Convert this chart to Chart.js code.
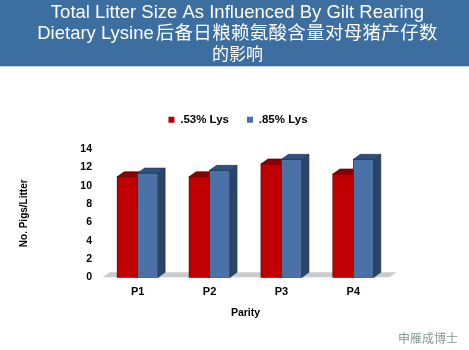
<!DOCTYPE html>
<html>
<head>
<meta charset="utf-8">
<script src="https://cdn.jsdelivr.net/npm/chart.js@4/dist/chart.umd.min.js"></script>
<style>
  html, body { margin: 0; padding: 0; background: #ffffff; }
  canvas { display: block; }
</style>
</head>
<body>
<canvas id="chart" width="469" height="350"></canvas>
<script>
// Litter size by parity for two gilt-rearing lysine levels
const parities = ['P1', 'P2', 'P3', 'P4'];
const lys053 = [11.0, 11.0, 12.4, 11.3];
const lys085 = [11.4, 11.7, 12.9, 12.9];
const seriesNames = ['.53% Lys', '.85% Lys'];
const yTicks = [0, 2, 4, 6, 8, 10, 12, 14];

const titleLine1 = 'Total Litter Size As Influenced By Gilt Rearing';
const titleLine2Latin = 'Dietary Lysine';
const titleLine2Cjk = '后备日粮赖氨酸含量对母猪产仔数';
const titleLine3 = '的影响';
const yTitle = 'No. Pigs/Litter';
const xTitle = 'Parity';
const footText = '申雁成博士';

const LATIN = '"Liberation Sans", Arial, sans-serif';
const CJK = '"Noto Sans CJK SC", "Liberation Sans", sans-serif';

const faceColors = [
  { front: '#c00000', top: '#8a0000', side: '#7a0000', edge: '#5a0000' },
  { front: '#4a72a8', top: '#2f5080', side: '#2b4569', edge: '#1d3150' }
];
const DX = 7, DY = 5;

// Slide header band, white page and footer mark
const slideBackground = {
  id: 'slideBackground',
  beforeDraw(chart) {
    const ctx = chart.ctx;
    ctx.save();
    ctx.fillStyle = '#ffffff';
    ctx.fillRect(0, 0, chart.width, chart.height);
    ctx.fillStyle = '#3c6fa0';
    ctx.fillRect(0, 0, chart.width, 66);
    ctx.fillStyle = '#c9d8e8';
    ctx.fillRect(0, 66, chart.width, 1);

    ctx.fillStyle = '#ffffff';
    ctx.textBaseline = 'alphabetic';
    ctx.textAlign = 'left';
    const cx = 237.5;

    ctx.font = '18.5px ' + LATIN;
    let w = ctx.measureText(titleLine1).width;
    ctx.fillText(titleLine1, cx - w / 2, 17.5);

    // second line: latin words followed by evenly pitched CJK characters
    const pitch = 18.8;
    const chars = Array.from(titleLine2Cjk);
    ctx.font = '18.5px ' + LATIN;
    const wl = ctx.measureText(titleLine2Latin).width;
    const total = wl + 2 + chars.length * pitch;
    const x0 = cx - total / 2;
    ctx.fillText(titleLine2Latin, x0, 38.5);
    ctx.font = '18.5px ' + CJK;
    chars.forEach((ch, i) => ctx.fillText(ch, x0 + wl + 2 + i * pitch, 39));

    ctx.font = '17px ' + CJK;
    w = ctx.measureText(titleLine3).width;
    ctx.fillText(titleLine3, cx - w / 2, 60);

    ctx.font = '12px ' + CJK;
    ctx.fillStyle = '#8a9a90';
    ctx.fillText(footText, 398, 343);
    ctx.restore();
  }
};

// Grey floor under the columns
const floor3d = {
  id: 'floor3d',
  beforeDatasetsDraw(chart) {
    const { ctx, chartArea: a } = chart;
    const b = chart.scales.y.getPixelForValue(0);
    ctx.save();
    ctx.fillStyle = '#cbcbcb';
    ctx.beginPath();
    ctx.moveTo(a.left + 1, b);
    ctx.lineTo(a.right, b);
    ctx.lineTo(a.right + DX, b - DY);
    ctx.lineTo(a.left + 1 + DX, b - DY);
    ctx.closePath();
    ctx.fill();
    ctx.restore();
  }
};

// Top and side faces so the columns read as solid blocks
const columns3d = {
  id: 'columns3d',
  afterDatasetsDraw(chart) {
    const ctx = chart.ctx;
    ctx.save();
    ctx.lineWidth = 0.6;
    chart.data.datasets.forEach((ds, di) => {
      const meta = chart.getDatasetMeta(di);
      const c = faceColors[di];
      meta.data.forEach(bar => {
        const p = bar.getProps(['x', 'y', 'base', 'width'], true);
        const L = p.x - p.width / 2, R = p.x + p.width / 2, T = p.y, B = p.base;
        ctx.strokeStyle = c.edge;
        // front
        ctx.fillStyle = c.front;
        ctx.fillRect(L, T, R - L, B - T);
        ctx.strokeRect(L, T, R - L, B - T);
        // side
        ctx.fillStyle = c.side;
        ctx.beginPath();
        ctx.moveTo(R, T); ctx.lineTo(R + DX, T - DY); ctx.lineTo(R + DX, B - DY); ctx.lineTo(R, B);
        ctx.closePath(); ctx.fill(); ctx.stroke();
        // top
        ctx.fillStyle = c.top;
        ctx.beginPath();
        ctx.moveTo(L, T); ctx.lineTo(L + DX, T - DY); ctx.lineTo(R + DX, T - DY); ctx.lineTo(R, T);
        ctx.closePath(); ctx.fill(); ctx.stroke();
      });
    });
    ctx.restore();
  }
};

// Fixed legend block height so the plot starts where the axis needs it
const legendBlock = {
  id: 'legendBlock',
  afterInit(chart) {
    const lg = chart.legend;
    if (!lg) return;
    const fit = lg.fit.bind(lg);
    lg.fit = function () { fit(); this.height = 53.3; };
  }
};

new Chart(document.getElementById('chart'), {
  type: 'bar',
  data: {
    labels: parities,
    datasets: [
      { label: seriesNames[0], data: lys053, backgroundColor: faceColors[0].front,
        categoryPercentage: 0.57, barPercentage: 1.0 },
      { label: seriesNames[1], data: lys085, backgroundColor: faceColors[1].front,
        categoryPercentage: 0.57, barPercentage: 1.0 }
    ]
  },
  options: {
    responsive: false,
    animation: false,
    devicePixelRatio: 1,
    layout: { padding: { top: 96, left: 7, right: 0, bottom: 0 } },
    plugins: {
      title: { display: false },
      tooltip: { enabled: false },
      legend: {
        display: true,
        position: 'top',
        labels: {
          boxWidth: 6, boxHeight: 6, padding: 18,
          color: '#000000',
          font: { family: LATIN, size: 11.5, weight: 'bold' }
        }
      }
    },
    scales: {
      x: {
        grid: { display: false, drawTicks: false },
        border: { display: false },
        ticks: { color: '#000000', padding: 8, font: { family: LATIN, size: 11, weight: 'bold' } },
        title: { display: true, text: xTitle, color: '#000000',
                 font: { family: LATIN, size: 10.5, weight: 'bold' },
                 padding: { top: 0, bottom: 31 } },
        afterFit(s) { s.height = 72.7; }
      },
      y: {
        min: 0, max: 14,
        afterBuildTicks(s) { s.ticks = yTicks.map(v => ({ value: v })); },
        grid: { display: false, drawTicks: false },
        border: { display: false },
        ticks: { color: '#000000', padding: 9.7, font: { family: LATIN, size: 10.5, weight: 'bold' } },
        title: { display: true, text: yTitle, color: '#000000',
                 font: { family: LATIN, size: 10, weight: 'bold' },
                 padding: { top: 11, bottom: 0 } },
        afterFit(s) { s.width = 94.7; }
      },
      yRight: {
        position: 'right',
        display: true,
        grid: { display: false, drawTicks: false },
        border: { display: false },
        ticks: { display: false },
        afterFit(s) { s.width = 79.7; }
      }
    }
  },
  plugins: [slideBackground, floor3d, columns3d, legendBlock]
});
</script>
</body>
</html>
